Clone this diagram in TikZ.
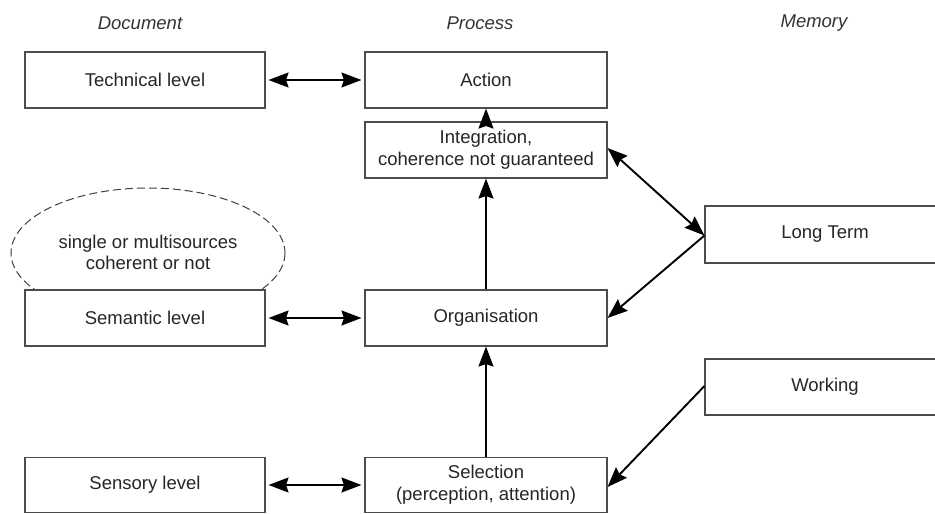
\documentclass[tikz,border=0pt]{standalone}
\usepackage{fontspec}
\setmainfont{Liberation Sans}
\usetikzlibrary{arrows.meta}
\begin{document}
\begin{tikzpicture}[x=1pt,y=-1pt,
  box/.style={draw=black!70,line width=1.1pt,fill=white,rectangle,
    minimum height=56pt,inner sep=0pt,align=center,
    font=\fontsize{18.5}{22}\selectfont,text=black!85},
  docbox/.style={box,minimum width=240pt},
  procbox/.style={box,minimum width=242pt},
  membox/.style={box,minimum width=240pt},
  head/.style={font=\fontsize{18.5}{22}\selectfont\itshape,text=black!80},
  tip/.style={Stealth[length=20pt,width=15pt,inset=2.5pt]},
  arr/.style={line width=1.9pt,-{Stealth[length=20pt,width=15pt,inset=2.5pt]}},
  darr/.style={line width=1.9pt,{Stealth[length=20pt,width=15pt,inset=2.5pt]}-{Stealth[length=20pt,width=15pt,inset=2.5pt]}}
]
\useasboundingbox (0,0) rectangle (935,514);
\clip (0,0) rectangle (935,514);
\fill[white] (0,0) rectangle (935,514);

% headers
\node[head] (hdoc) at (140,23) {Document};
\node[head] (hproc) at (480,23) {Process};
\node[head] (hmem) at (814,23) {Memory};

% ellipse
\draw[black!75,line width=1pt,dash pattern=on 8pt off 4pt] (148,253) ellipse [x radius=137, y radius=65];
\node[font=\fontsize{18.5}{21}\selectfont,text=black!85,align=center] (note) at (148,252) {single or multisources\\coherent or not};

% document column
\node[docbox] (tech) at (145,80) {Technical level};
\node[docbox] (sem) at (145,318) {Semantic level};
\node[docbox,minimum height=55pt] (sens) at (145,485) {Sensory level};

% process column
\node[procbox] (act) at (486,80) {Action};
\node[procbox] (integ) at (486,150) {Integration,\\coherence not guaranteed};
\node[procbox] (org) at (486,318) {Organisation};
\node[procbox,minimum height=55pt] (sel) at (486,485) {Selection\\(perception, attention)};

% memory column
\node[membox,minimum height=57pt] (lt) at (825,234.5) {Long Term};
\node[membox] (work) at (825,387) {Working};

% connectors
\draw[darr,shorten <=3pt,shorten >=3pt] (tech.east) -- (act.west);
\draw[darr,shorten <=3pt,shorten >=3pt] (sem.east) -- (org.west);
\draw[darr,shorten <=3pt,shorten >=3pt] (sens.east) -- (sel.west);

\draw[arr] (integ.north) -- (act.south);
\draw[arr] (org.north) -- (integ.south);
\draw[arr] (sel.north) -- (org.south);

\draw[darr] ([yshift=2pt]integ.east) -- ([yshift=-1pt]lt.west);
\draw[arr] ([yshift=-1pt]lt.west) -- (org.east);
\draw[arr] ([yshift=1pt]work.west) -- ([yshift=-2pt]sel.east);
\end{tikzpicture}
\end{document}
